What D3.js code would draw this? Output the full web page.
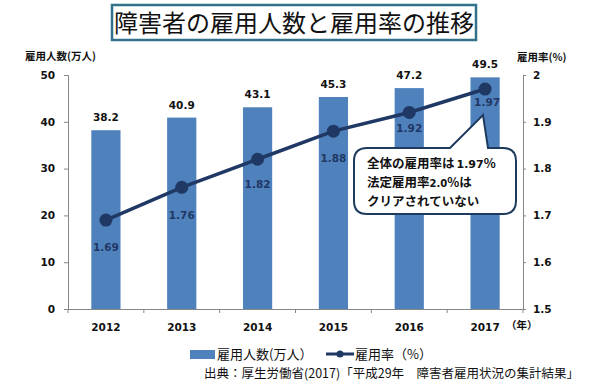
<!DOCTYPE html>
<html><head><meta charset="utf-8">
<script src="https://cdn.jsdelivr.net/npm/d3@7"></script>
<style>
html,body{margin:0;padding:0;background:#fff;}
svg{display:block;}
</style></head>
<body>
<svg id="c" width="589" height="388"></svg>
<script>
const years = ["2012","2013","2014","2015","2016","2017"];
const employed = [38.2, 40.9, 43.1, 45.3, 47.2, 49.5];
const rate = [1.69, 1.76, 1.82, 1.88, 1.92, 1.97];
const leftTicks = [0, 10, 20, 30, 40, 50];
const rightTicks = [1.5, 1.6, 1.7, 1.8, 1.9, 2.0];
const rightTickLabels = ["1.5", "1.6", "1.7", "1.8", "1.9", "2"];
const titleText = "障害者の雇用人数と雇用率の推移";
const leftTitle = "雇用人数(万人)";
const rightTitle = "雇用率(%)";
const xUnit = "（年）";
const legendBar = "雇用人数(万人）";
const legendLine = "雇用率（%）";
const sourceText = "出典：厚生労働省(2017)「平成29年　障害者雇用状況の集計結果」";

// style
const rateLabelOffset = [27, 28, 25, 27, 16, 13];
const barColor = "#4f81bd";
const lineColor = "#1f3864";
const axisColor = "#868686";
const jp = "'Noto Sans CJK JP', 'Noto Sans', sans-serif";
const num = "'DejaVu Sans', Verdana, sans-serif";

const svg = d3.select("#c");
const L = 68, R = 523, T = 75, B = 309;

const x = d3.scaleBand().domain(years).range([L, R]).paddingInner(0.615).paddingOuter(0.3075);
const yL = d3.scaleLinear().domain([0, 50]).range([B, T]);
const yR = d3.scaleLinear().domain([1.5, 2.0]).range([B, T]);
const bw = x.bandwidth();
const cx = d => x(d) + bw / 2;

// title
svg.append("rect").attr("x", 112).attr("y", 5).attr("width", 364).attr("height", 35)
  .attr("fill", "#fff").attr("stroke", "#31718a").attr("stroke-width", 2.5);
svg.append("text").attr("x", 294).attr("y", 31.5).attr("text-anchor", "middle")
  .attr("font-family", jp).attr("font-size", 24).attr("fill", "#111").text(titleText);

// axis titles
svg.append("text").attr("x", 25).attr("y", 60).attr("font-family", jp).attr("font-weight", "bold")
  .attr("font-size", 10.5).attr("fill", "#111").text(leftTitle);
svg.append("text").attr("x", 517).attr("y", 61).attr("font-family", jp).attr("font-weight", "bold")
  .attr("font-size", 10.5).attr("fill", "#111").text(rightTitle);

// bars
svg.append("g").selectAll("rect").data(employed).join("rect")
  .attr("x", (d, i) => x(years[i])).attr("y", d => yL(d))
  .attr("width", bw).attr("height", d => yL(0) - yL(d)).attr("fill", barColor);

svg.append("g").selectAll("text").data(employed).join("text")
  .attr("x", (d, i) => cx(years[i])).attr("y", d => yL(d) - 9)
  .attr("text-anchor", "middle").attr("font-family", num).attr("font-weight", "bold")
  .attr("font-size", 10.5).attr("fill", "#111").text(d => d.toFixed(1));

// left axis
const gl = svg.append("g").attr("transform", `translate(${L},0)`)
  .call(d3.axisLeft(yL).tickValues(leftTicks).tickSize(4).tickPadding(9).tickFormat(d3.format("d")));
gl.selectAll("path,line").attr("stroke", axisColor);
gl.selectAll("text").attr("font-family", num).attr("font-weight", "bold").attr("font-size", 10.5).attr("fill", "#111");

// right axis
const gr = svg.append("g").attr("transform", `translate(${R},0)`)
  .call(d3.axisRight(yR).tickValues(rightTicks).tickSize(3).tickPadding(7).tickFormat((d, i) => rightTickLabels[i]));
gr.selectAll("path,line").attr("stroke", axisColor);
gr.selectAll("text").attr("font-family", num).attr("font-weight", "bold").attr("font-size", 10.5).attr("fill", "#111");

// bottom axis
const gb = svg.append("g").attr("transform", `translate(0,${B})`)
  .call(d3.axisBottom(x).tickSize(0).tickPadding(15));
gb.select("path").attr("stroke", axisColor).attr("d", `M${L},0.5H${R}`);
gb.selectAll("text").attr("font-family", num).attr("font-weight", "bold").attr("font-size", 10.5).attr("fill", "#111");
const bounds = d3.range(years.length + 1).map(i => L + i * ((R - L) / years.length));
svg.append("g").selectAll("line").data(bounds).join("line")
  .attr("x1", d => d).attr("x2", d => d).attr("y1", B).attr("y2", B + 4).attr("stroke", axisColor);
svg.append("text").attr("x", 506).attr("y", 329).attr("font-family", jp).attr("font-weight", "bold")
  .attr("font-size", 10.5).attr("fill", "#111").text(xUnit);

// line
const line = d3.line().x((d, i) => cx(years[i])).y(d => yR(d));
svg.append("path").datum(rate).attr("d", line).attr("fill", "none")
  .attr("stroke", lineColor).attr("stroke-width", 3.5);
svg.append("g").selectAll("circle").data(rate).join("circle")
  .attr("cx", (d, i) => cx(years[i])).attr("cy", d => yR(d)).attr("r", 6.5).attr("fill", lineColor);
svg.append("g").selectAll("text").data(rate).join("text")
  .attr("x", (d, i) => cx(years[i]) + (i === 5 ? 2 : 0)).attr("y", (d, i) => yR(d) + rateLabelOffset[i] + 4)
  .attr("text-anchor", "middle").attr("font-family", num).attr("font-weight", "bold")
  .attr("font-size", 10.5).attr("fill", lineColor).text(d => d.toFixed(2));

// callout
const bx0 = 354, by0 = 148, bx1 = 516, by1 = 214, r = 13;
const tipX = 483, tipY = 115, p1 = 450, p2 = 488;
const p = d3.path();
p.moveTo(bx0 + r, by0);
p.lineTo(p1, by0);
p.lineTo(tipX, tipY);
p.lineTo(p2, by0);
p.lineTo(bx1 - r, by0);
p.quadraticCurveTo(bx1, by0, bx1, by0 + r);
p.lineTo(bx1, by1 - r);
p.quadraticCurveTo(bx1, by1, bx1 - r, by1);
p.lineTo(bx0 + r, by1);
p.quadraticCurveTo(bx0, by1, bx0, by1 - r);
p.lineTo(bx0, by0 + r);
p.quadraticCurveTo(bx0, by0, bx0 + r, by0);
p.closePath();
svg.append("path").attr("d", p.toString()).attr("fill", "#fff")
  .attr("stroke", "#1f3a5f").attr("stroke-width", 2);

const ct = svg.append("g").attr("font-family", jp).attr("font-weight", "bold").attr("fill", "#111");
const t1 = ct.append("text").attr("x", 367).attr("y", 168);
t1.append("tspan").attr("font-size", 12.5).text("全体の雇用率は");
t1.append("tspan").attr("font-size", 11).attr("font-family", num).attr("dx", 2).text("1.97");
t1.append("tspan").attr("font-size", 12.5).text("%");
const t2 = ct.append("text").attr("x", 367).attr("y", 187);
t2.append("tspan").attr("font-size", 12.5).text("法定雇用率");
t2.append("tspan").attr("font-size", 10).attr("font-family", num).text("2.0");
t2.append("tspan").attr("font-size", 12.5).text("%は");
ct.append("text").attr("x", 367).attr("y", 206).attr("font-size", 12.5).text("クリアされていない");

// legend
svg.append("rect").attr("x", 190).attr("y", 350).attr("width", 25).attr("height", 9).attr("fill", barColor);
svg.append("text").attr("x", 217).attr("y", 359).attr("font-family", jp).attr("font-size", 13).attr("fill", "#111").text(legendBar);
svg.append("line").attr("x1", 326).attr("x2", 354).attr("y1", 354).attr("y2", 354).attr("stroke", lineColor).attr("stroke-width", 3);
svg.append("circle").attr("cx", 340).attr("cy", 354).attr("r", 3.5).attr("fill", lineColor);
svg.append("text").attr("x", 355).attr("y", 359).attr("font-family", jp).attr("font-size", 13).attr("fill", "#111").text(legendLine);

// source
svg.append("text").attr("x", 204).attr("y", 378).attr("font-family", jp).attr("font-size", 12.5).attr("fill", "#111").text(sourceText);
</script>
</body></html>
